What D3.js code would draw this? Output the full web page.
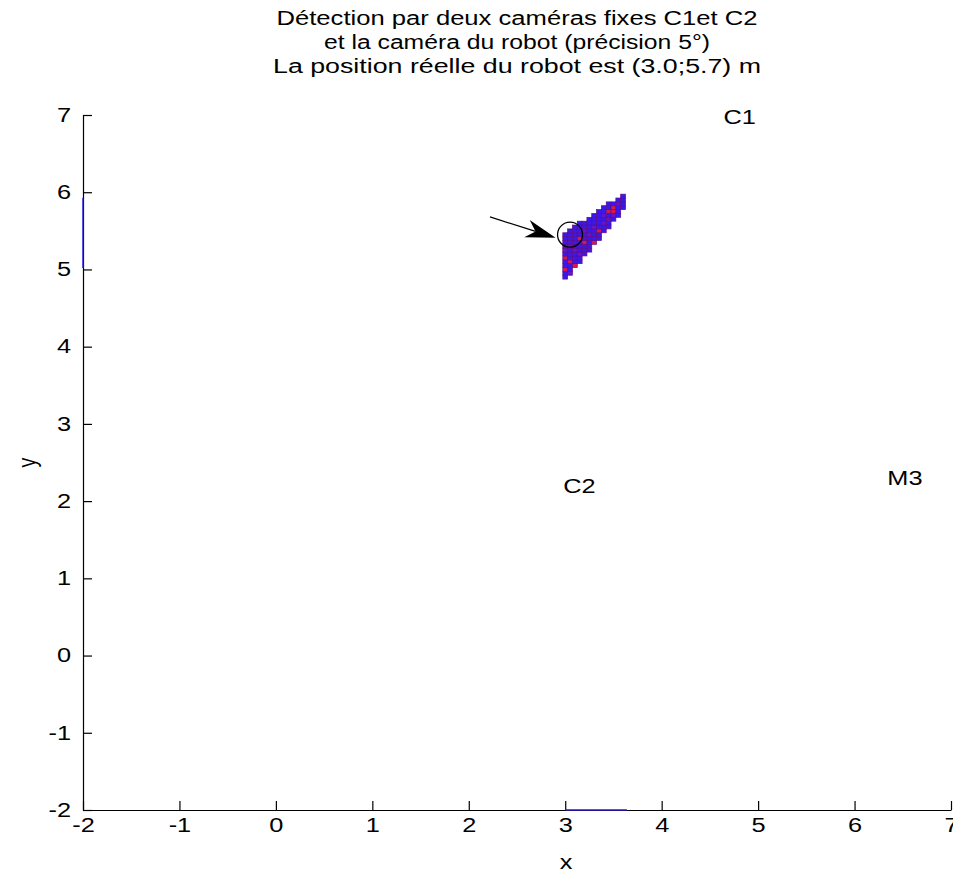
<!DOCTYPE html>
<html><head><meta charset="utf-8">
<script src="https://cdn.jsdelivr.net/npm/d3@7"></script>
<style>body{margin:0;background:#fff}svg{display:block}text{font-family:"Liberation Sans",Arial,sans-serif;fill:#000}</style>
</head><body><svg id="c" width="953" height="877"></svg>
<script>
// ---- data ----
const titleLines = ["Détection par deux caméras fixes C1et C2","et la caméra du robot (précision 5°)","La position réelle du robot est (3.0;5.7) m"];
const xTicks = [-2,-1,0,1,2,3,4,5,6,7];
const yTicks = [-2,-1,0,1,2,3,4,5,6,7];
const labels = [{t:"C1",x:4.64,y:6.97},{t:"C2",x:2.98,y:2.19},{t:"M3",x:6.34,y:2.30}];
// detection cells: columns of a 0.05 m grid, lower and upper cell centres
const colX    = [3.00,3.05,3.10,3.15,3.20,3.25,3.30,3.35,3.40,3.45,3.50,3.55,3.60];
const colLow  = [4.90,4.95,5.05,5.10,5.20,5.25,5.35,5.40,5.50,5.55,5.65,5.70,5.80];
const colHigh = [5.45,5.50,5.55,5.60,5.60,5.65,5.70,5.75,5.80,5.85,5.85,5.90,5.95];
const hotCells  = [[3.45,5.75],[3.50,5.75],[3.50,5.80],[3.15,5.40],[3.20,5.35],[3.00,5.00],[3.05,5.10],[3.00,5.15],[3.35,5.50],[3.10,5.05],[3.30,5.35]];
const warmCells = [[3.40,5.70],[3.55,5.85],[3.25,5.45],[3.05,4.95],[3.15,5.20],[3.40,5.60],[3.20,5.50],[3.10,5.25],[3.45,5.65],[3.05,5.30],[3.30,5.55],[3.50,5.70],[3.00,5.25]];
const robotMark = {x:3.05,y:5.45};
const arrow = {x1:2.22,y1:5.68,x2:2.90,y2:5.41};
const projY = [5.02,5.93]; // blue projection on x = -2
const projX = [3.00,3.64]; // blue projection on y = -2
const cellStep = 0.05;

// ---- layout ----
const titleWidths = [481,386,488];
const svg = d3.select("#c");
const x = d3.scaleLinear().domain([-2,7]).range([83,951]);
const y = d3.scaleLinear().domain([-2,7]).range([810,115]);
const SX = 1.3, FS = 19.5;

// title
svg.append("g").selectAll("text").data(titleLines).join("text")
  .attr("x",(x(-2)+x(7))/2).attr("y",(d,i)=>25+i*24)
  .attr("text-anchor","middle").attr("font-size",FS)
  .attr("textLength",(d,i)=>titleWidths[i]).attr("lengthAdjust","spacingAndGlyphs").text(d=>d);

// cells
const cells = [];
colX.forEach((cx,i)=>{
  const n = Math.round((colHigh[i]-colLow[i])/cellStep);
  for(let k=0;k<=n;k++){ cells.push({x:cx,y:+(colLow[i]+k*cellStep).toFixed(2),v:0}); }
});
const key = (a,b)=>a.toFixed(2)+","+b.toFixed(2);
const hot = new Set(hotCells.map(d=>key(d[0],d[1])));
const warm = new Set(warmCells.map(d=>key(d[0],d[1])));
cells.forEach(c=>{ const k=key(c.x,c.y); if(hot.has(k)) c.v=2; else if(warm.has(k)) c.v=1; });
const color = d3.scaleOrdinal().domain([0,1,2]).range(["#3a18ec","#6a14c4","#d8184c"]);
const cw = x(cellStep)-x(0), ch = y(0)-y(cellStep);
svg.append("g").selectAll("rect").data(cells).join("rect")
  .attr("x",d=>x(d.x)-cw/2).attr("y",d=>y(d.y)-ch/2)
  .attr("width",cw).attr("height",ch)
  .attr("fill",d=>color(d.v)).attr("stroke","#5a0c8c").attr("stroke-width",0.7);

// circle
svg.append("circle").attr("cx",x(robotMark.x)).attr("cy",y(robotMark.y)).attr("r",12.5)
  .attr("fill","none").attr("stroke","#000").attr("stroke-width",1.3);

// arrow
{
  const X1=x(arrow.x1),Y1=y(arrow.y1),X2=x(arrow.x2),Y2=y(arrow.y2);
  const a=Math.atan2(Y2-Y1,X2-X1), L=30, W=9, B=21;
  const ux=Math.cos(a),uy=Math.sin(a),px=-uy,py=ux;
  svg.append("line").attr("x1",X1).attr("y1",Y1).attr("x2",X2-ux*B).attr("y2",Y2-uy*B)
    .attr("stroke","#000").attr("stroke-width",1.2);
  const p=[[X2,Y2],[X2-ux*L+px*W,Y2-uy*L+py*W],[X2-ux*B,Y2-uy*B],[X2-ux*L-px*W,Y2-uy*L-py*W]];
  svg.append("path").attr("d","M"+p.map(q=>q.join(",")).join("L")+"Z").attr("fill","#000");
}

// axes
const fmt = d=>String(d);
const gx = svg.append("g").attr("transform",`translate(0,${y(-2)})`)
  .call(d3.axisBottom(x).tickValues(xTicks).tickSizeInner(-9).tickSizeOuter(0).tickPadding(10).tickFormat(fmt));
const gy = svg.append("g").attr("transform",`translate(${x(-2)},0)`)
  .call(d3.axisLeft(y).tickValues(yTicks).tickSizeInner(-9).tickSizeOuter(0).tickPadding(10).tickFormat(fmt));
[gx,gy].forEach(g=>{
  g.select(".domain").attr("stroke","#000").attr("stroke-width",1.2);
  g.selectAll(".tick line").attr("stroke","#000").attr("stroke-width",1.2);
  g.selectAll(".tick text").attr("font-size",FS).attr("font-family",null).attr("fill","#000");
});
gx.selectAll(".tick text").attr("transform",`scale(${SX},1)`).attr("y",8);
gy.selectAll(".tick text").attr("x",-12/SX).attr("transform",`scale(${SX},1)`);

// projections
svg.append("line").attr("x1",x(-2)).attr("x2",x(-2)).attr("y1",y(projY[0])).attr("y2",y(projY[1]))
  .attr("stroke","#1a10e0").attr("stroke-width",1.4);
svg.append("line").attr("x1",x(projX[0])).attr("x2",x(projX[1])).attr("y1",y(-2)).attr("y2",y(-2))
  .attr("stroke","#2a1ac8").attr("stroke-width",1.6);

// text labels
svg.append("g").selectAll("text").data(labels).join("text")
  .attr("transform",d=>`translate(${x(d.x)},${y(d.y)}) scale(${SX},1)`)
  .attr("dy","0.35em").attr("font-size",FS).text(d=>d.t);

// axis titles
svg.append("text").attr("transform",`translate(566,869) scale(${SX},1)`)
  .attr("text-anchor","middle").attr("font-size",FS).text("x");
svg.append("text").attr("transform",`translate(36,${(y(-2)+y(7))/2}) rotate(-90) scale(1,${SX})`)
  .attr("text-anchor","middle").attr("font-size",FS).text("y");
</script></body></html>
